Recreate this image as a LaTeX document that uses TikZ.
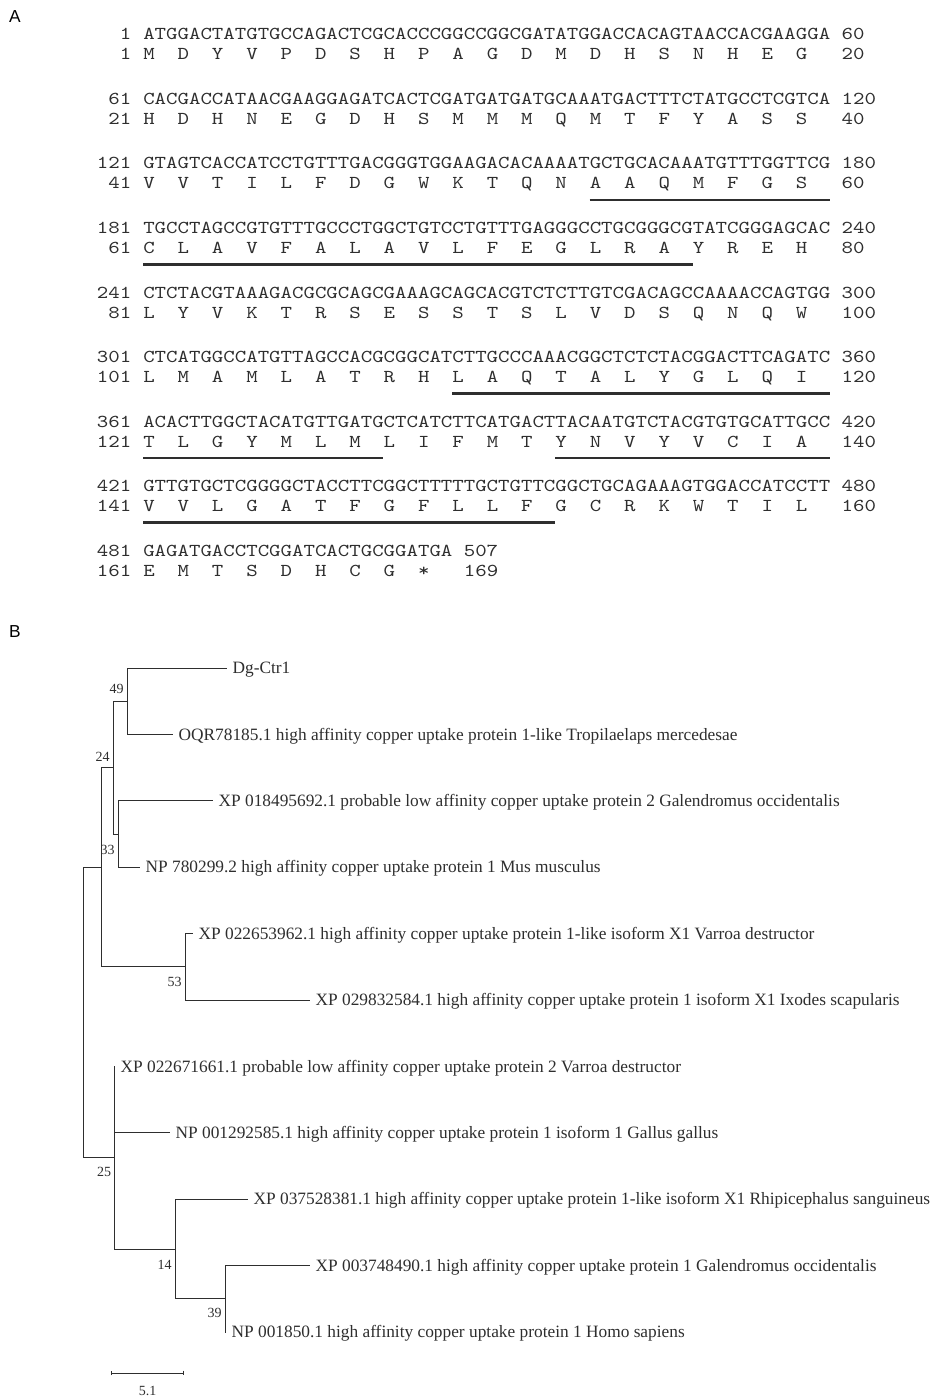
\documentclass[tikz,border=0pt]{standalone}
\usepackage{fontspec}
\setmainfont{Liberation Serif}
\newfontfamily\seqfont[FakeStretch=1.2]{lmmono10-regular.otf}
\newfontfamily\panelfont{Liberation Sans}
\usetikzlibrary{arrows.meta}

\definecolor{ink}{gray}{0.18}
\def\colw{11.45}
\def\colx{97.2}

\tikzset{
  seq/.style={font=\seqfont\fontsize{13.63}{16}\selectfont, inner sep=0pt, text=ink},
  uline/.style={line width=2.2pt, ink},
  branch/.style={line width=0.75pt, ink},
  leaf/.style={anchor=west, inner xsep=4pt, inner ysep=0pt, text height=8.6pt, text depth=0pt,
    font=\fontsize{13}{15}\selectfont, text=ink},
  boot/.style={font=\fontsize{10.5}{12}\selectfont, inner sep=0pt, text=ink},
  panel/.style={font=\panelfont\fontsize{13}{15}\selectfont, inner sep=0pt},
}

\begin{document}
\begin{tikzpicture}[x=0.75pt, y=-0.75pt]
  \useasboundingbox (0,0) rectangle (934,1398);

  % panel A: nucleotide and amino acid sequence
  \node[panel] (pa) at (15,17) {A};
  \foreach \r/\nl/\dna in {
      0/1/ATGGACTATGTGCCAGACTCGCACCCGGCCGGCGATATGGACCACAGTAACCACGAAGGA 60,
      1/61/CACGACCATAACGAAGGAGATCACTCGATGATGATGCAAATGACTTTCTATGCCTCGTCA 120,
      2/121/GTAGTCACCATCCTGTTTGACGGGTGGAAGACACAAAATGCTGCACAAATGTTTGGTTCG 180,
      3/181/TGCCTAGCCGTGTTTGCCCTGGCTGTCCTGTTTGAGGGCCTGCGGGCGTATCGGGAGCAC 240,
      4/241/CTCTACGTAAAGACGCGCAGCGAAAGCAGCACGTCTCTTGTCGACAGCCAAAACCAGTGG 300,
      5/301/CTCATGGCCATGTTAGCCACGCGGCATCTTGCCCAAACGGCTCTCTACGGACTTCAGATC 360,
      6/361/ACACTTGGCTACATGTTGATGCTCATCTTCATGACTTACAATGTCTACGTGTGCATTGCC 420,
      7/421/GTTGTGCTCGGGGCTACCTTCGGCTTTTTGCTGTTCGGCTGCAGAAAGTGGACCATCCTT 480,
      8/481/GAGATGACCTCGGATCACTGCGGATGA 507}{
    \node[seq, anchor=base east] (dl\r) at ({\colx+3*\colw}, {40+64.5*\r}) {\nl};
    \node[seq, anchor=base west] (ds\r) at ({\colx+4*\colw}, {40+64.5*\r}) {\dna};
  }
  \foreach \r/\nl/\aas/\nr/\c in {
      0/1/{M,D,Y,V,P,D,S,H,P,A,G,D,M,D,H,S,N,H,E,G}/20/65,
      1/21/{H,D,H,N,E,G,D,H,S,M,M,M,Q,M,T,F,Y,A,S,S}/40/65,
      2/41/{V,V,T,I,L,F,D,G,W,K,T,Q,N,A,A,Q,M,F,G,S}/60/65,
      3/61/{C,L,A,V,F,A,L,A,V,L,F,E,G,L,R,A,Y,R,E,H}/80/65,
      4/81/{L,Y,V,K,T,R,S,E,S,S,T,S,L,V,D,S,Q,N,Q,W}/100/65,
      5/101/{L,M,A,M,L,A,T,R,H,L,A,Q,T,A,L,Y,G,L,Q,I}/120/65,
      6/121/{T,L,G,Y,M,L,M,L,I,F,M,T,Y,N,V,Y,V,C,I,A}/140/65,
      7/141/{V,V,L,G,A,T,F,G,F,L,L,F,G,C,R,K,W,T,I,L}/160/65,
      8/161/{E,M,T,S,D,H,C,G,*}/169/32}{
    \node[seq, anchor=base east] (pl\r) at ({\colx+3*\colw}, {60+64.5*\r}) {\nl};
    \foreach \a [count=\j] in \aas
      \node[seq, anchor=base west] (p\r-\j) at ({\colx+(1+3*\j)*\colw}, {60+64.5*\r}) {\a};
    \node[seq, anchor=base west] (pr\r) at ({\colx+\c*\colw}, {60+64.5*\r}) {\nr};
  }
  % transmembrane segments
  \foreach \r/\ja/\jb in {2/14/20, 3/1/16, 5/10/20, 6/1/7, 6/13/20, 7/1/12}
    \draw[uline] ({\colx+(1+3*\ja)*\colw}, {71+64.5*\r}) -- ({\colx+(4+3*\jb)*\colw}, {71+64.5*\r});

  % panel B: tree
  \node[panel] (pb) at (15,632) {B};

  \node[leaf] (l1) at (227,668) {Dg-Ctr1};
  \node[leaf] (l2) at (173,734.4) {OQR78185.1 high affinity copper uptake protein 1-like Tropilaelaps mercedesae};
  \node[leaf] (l3) at (213,800.8) {XP 018495692.1 probable low affinity copper uptake protein 2 Galendromus occidentalis};
  \node[leaf] (l4) at (140,867.2) {NP 780299.2 high affinity copper uptake protein 1 Mus musculus};
  \node[leaf] (l5) at (193,933.6) {XP 022653962.1 high affinity copper uptake protein 1-like isoform X1 Varroa destructor};
  \node[leaf] (l6) at (310,1000) {XP 029832584.1 high affinity copper uptake protein 1 isoform X1 Ixodes scapularis};
  \node[leaf] (l7) at (115,1066.4) {XP 022671661.1 probable low affinity copper uptake protein 2 Varroa destructor};
  \node[leaf] (l8) at (170,1132.8) {NP 001292585.1 high affinity copper uptake protein 1 isoform 1 Gallus gallus};
  \node[leaf] (l9) at (248,1199.2) {XP 037528381.1 high affinity copper uptake protein 1-like isoform X1 Rhipicephalus sanguineus};
  \node[leaf] (l10) at (310,1265.6) {XP 003748490.1 high affinity copper uptake protein 1 Galendromus occidentalis};
  \node[leaf] (l11) at (226,1332) {NP 001850.1 high affinity copper uptake protein 1 Homo sapiens};

  \coordinate (n49) at (127,701.2);
  \coordinate (n33) at (118,834);
  \coordinate (n24) at (113,767.6);
  \coordinate (n53) at (185,966.8);
  \coordinate (nA) at (101,867.2);
  \coordinate (n39) at (225,1298.8);
  \coordinate (n14) at (175,1249);
  \coordinate (n25) at (114,1157.7);
  \coordinate (root) at (83,1012.45);

  \node[boot] (b49) at (116.5,689) {49};
  \node[boot] (b24) at (102.5,757) {24};
  \node[boot] (b33) at (107.5,850) {33};
  \node[boot] (b53) at (174.5,982) {53};
  \node[boot] (b25) at (104,1172) {25};
  \node[boot] (b14) at (164.5,1265) {14};
  \node[boot] (b39) at (214.5,1313) {39};

  \draw[branch] (n49) |- (l1.west);
  \draw[branch] (n49) |- (l2.west);
  \draw[branch] (n33) |- (l3.west);
  \draw[branch] (n33) |- (l4.west);
  \draw[branch] (n24) |- (n49);
  \draw[branch] (n24) |- (n33);
  \draw[branch] (n53) |- (l5.west);
  \draw[branch] (n53) |- (l6.west);
  \draw[branch] (nA) |- (n24);
  \draw[branch] (nA) |- (n53);
  \draw[branch] (n39) |- (l10.west);
  \draw[branch] (n39) |- (l11.west);
  \draw[branch] (n14) |- (l9.west);
  \draw[branch] (n14) |- (n39);
  \draw[branch] (n25) |- (l7.west);
  \draw[branch] (n25) |- (l8.west);
  \draw[branch] (n25) |- (n14);
  \draw[branch] (root) |- (nA);
  \draw[branch] (root) |- (n25);

  % scale bar
  \coordinate (s1) at (111,1373);
  \coordinate (s2) at (184,1373);
  \draw[branch, {Bar[width=3.5pt]}-{Bar[width=3.5pt]}] (s1) -- (s2);
  \node[boot] (sc) at (147.5,1391) {5.1};
\end{tikzpicture}
\end{document}
